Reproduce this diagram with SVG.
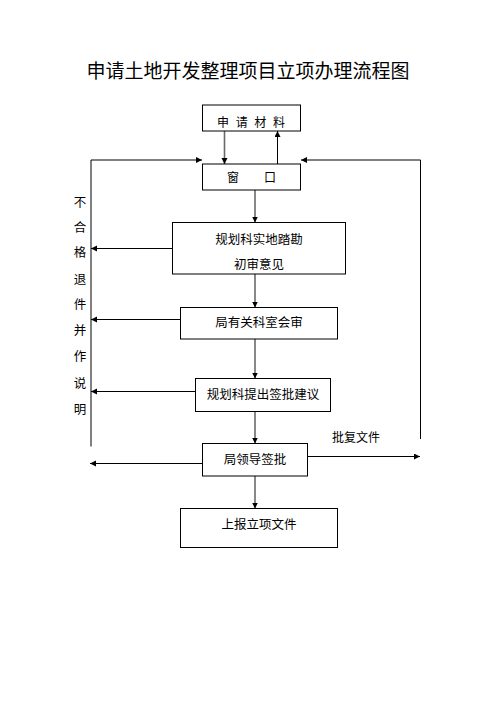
<svg xmlns="http://www.w3.org/2000/svg" width="496" height="702" viewBox="0 0 496 702">
<style>
text{font-family:"Liberation Serif","Noto Sans CJK SC",serif;fill:#000;font-size:12.5px}
.t{text-anchor:middle}
.box{fill:#fff;stroke:#000;stroke-width:1}
.c{fill:none;stroke:#000;stroke-width:1}
.g{fill:none;stroke:#6a6a6a;stroke-width:1.6}
</style>
<defs>
<marker id="a" markerUnits="userSpaceOnUse" markerWidth="8" markerHeight="8" refX="6" refY="3" orient="auto">
<path d="M0,0 L6,3 L0,6 Z" fill="#000"/>
</marker>
</defs>
<rect width="496" height="702" fill="#fff"/>
<text x="248" y="78" class="t" style="font-size:19px">申请土地开发整理项目立项办理流程图</text>

<g id="connectors">
<line class="g" x1="224.5" y1="131" x2="224.5" y2="164" marker-end="url(#a)"/>
<line class="c" x1="277.5" y1="164" x2="277.5" y2="131" marker-end="url(#a)"/>
<polyline class="c" points="91,446.5 91,160 202,160" marker-end="url(#a)"/>
<polyline class="c" points="420.5,439 420.5,160 301,160" marker-end="url(#a)"/>
<line class="g" x1="255" y1="190" x2="255" y2="222.5" marker-end="url(#a)"/>
<line class="g" x1="255" y1="274" x2="255" y2="307.5" marker-end="url(#a)"/>
<line class="g" x1="255" y1="339" x2="255" y2="378.5" marker-end="url(#a)"/>
<line class="g" x1="255" y1="411.5" x2="255" y2="443.5" marker-end="url(#a)"/>
<line class="g" x1="255" y1="476" x2="255" y2="508.5" marker-end="url(#a)"/>
<line class="c" x1="172.5" y1="248.5" x2="91" y2="248.5" marker-end="url(#a)"/>
<line class="c" x1="180.5" y1="319.5" x2="91" y2="319.5" marker-end="url(#a)"/>
<line class="c" x1="195.5" y1="391.5" x2="91" y2="391.5" marker-end="url(#a)"/>
<line class="c" x1="202.5" y1="463.5" x2="90" y2="463.5" marker-end="url(#a)"/>
<line class="c" x1="307.5" y1="456.5" x2="420" y2="456.5" marker-end="url(#a)"/>
</g>

<g id="n1"><rect class="box" x="202.5" y="105" width="98" height="26"/>
<text x="217 235.7 254.3 273" y="126.5" style="font-size:12px">申请材料</text></g>
<g id="n2"><rect class="box" x="202.5" y="164" width="98" height="26"/>
<text x="227 264" y="182" style="font-size:12px">窗口</text></g>
<g id="n3"><rect class="box" x="172.5" y="222.5" width="173" height="51.5"/>
<text x="259" y="243.5" class="t">规划科实地踏勘</text>
<text x="259" y="268.5" class="t">初审意见</text></g>
<g id="n4"><rect class="box" x="180.5" y="307.5" width="157" height="31.5"/>
<text x="259" y="327" class="t">局有关科室会审</text></g>
<g id="n5"><rect class="box" x="195.5" y="378.5" width="135" height="33"/>
<text x="263" y="399" class="t">规划科提出签批建议</text></g>
<g id="n6"><rect class="box" x="202.5" y="443.5" width="105" height="32.5"/>
<text x="255" y="463.5" class="t">局领导签批</text></g>
<g id="n7"><rect class="box" x="180.5" y="508.5" width="157" height="39"/>
<text x="259" y="528.5" class="t">上报立项文件</text></g>

<g id="labels">
<text x="356" y="441.5" class="t" style="font-size:12px">批复文件</text>
<text class="t" x="80" y="206.5">不</text>
<text class="t" x="80" y="232">合</text>
<text class="t" x="80" y="257">格</text>
<text class="t" x="80" y="283.5">退</text>
<text class="t" x="80" y="308.5">件</text>
<text class="t" x="80" y="334.5">并</text>
<text class="t" x="80" y="360.5">作</text>
<text class="t" x="80" y="387.5">说</text>
<text class="t" x="80" y="413.5">明</text>
</g>
</svg>
